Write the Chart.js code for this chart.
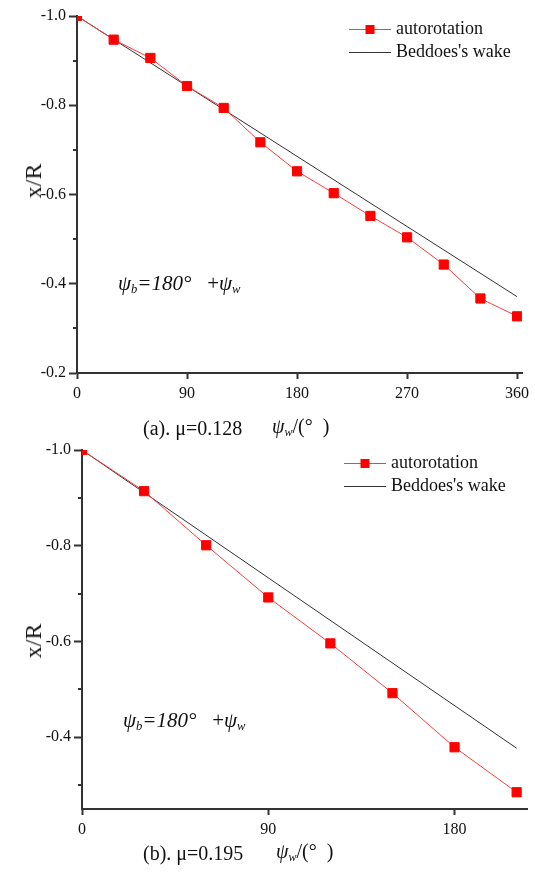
<!DOCTYPE html>
<html>
<head>
<meta charset="utf-8">
<script src="https://cdn.jsdelivr.net/npm/chart.js@4.4.1/dist/chart.umd.min.js"></script>
<style>
  body { margin: 0; background: #fff; width: 535px; height: 875px; position: relative; overflow: hidden;
         font-family: 'Liberation Serif', 'Times New Roman', serif; color: #111; }
  canvas { position: absolute; left: 0; }
  .t { position: absolute; white-space: nowrap; line-height: 1; }
  .t sub { font-size: 0.6em; vertical-align: -0.25em; }
  .ann { font-size: 21px; }
  .cap { font-size: 20px; }
  .ytitle { font-size: 24px; transform: translate(-50%, -50%) rotate(-90deg); }
</style>
</head>
<body>
<canvas id="chartA" width="535" height="437" style="top:0"></canvas>
<canvas id="chartB" width="535" height="438" style="top:437px"></canvas>

<div class="t ytitle" style="left:33px;top:181px">x/R</div>
<div class="t ytitle" style="left:33px;top:641px">x/R</div>

<div class="t ann" style="left:118px;top:273px"><i>ψ<sub>b</sub>=180°</i>&nbsp;&nbsp;&nbsp;+<i>ψ<sub>w</sub></i></div>
<div class="t ann" style="left:123px;top:710px"><i>ψ<sub>b</sub>=180°</i>&nbsp;&nbsp;&nbsp;+<i>ψ<sub>w</sub></i></div>

<div class="t cap" style="left:143px;top:418px">(a). μ=0.128</div>
<div class="t cap" style="left:272px;top:416px"><i>ψ<sub>w</sub></i>/(°&nbsp;&nbsp;)</div>
<div class="t cap" style="left:143px;top:843px">(b). μ=0.195</div>
<div class="t cap" style="left:276px;top:841px"><i>ψ<sub>w</sub></i>/(°&nbsp;&nbsp;)</div>

<script>
// (a) mu = 0.128
const psiA = [0, 30, 60, 90, 120, 150, 180, 210, 240, 270, 300, 330, 360];
const autoA = [-1.0, -0.947, -0.906, -0.843, -0.794, -0.717, -0.652, -0.603, -0.552, -0.504, -0.443, -0.367, -0.327];
const beddoesPsiA = [0, 360];
const beddoesA = [-1.0, -0.371];
const xTicksA = [0, 90, 180, 270, 360];
const yTicksA = [-1.0, -0.8, -0.6, -0.4, -0.2];
const yMinorA = [-0.9, -0.7, -0.5, -0.3];

// (b) mu = 0.195
const psiB = [0, 30, 60, 90, 120, 150, 180, 210];
const autoB = [-1.0, -0.914, -0.801, -0.692, -0.596, -0.492, -0.379, -0.285];
const beddoesPsiB = [0, 210];
const beddoesB = [-1.0, -0.377];
const xTicksB = [0, 90, 180];
const yTicksB = [-1.0, -0.8, -0.6, -0.4];
const yMinorB = [-0.9, -0.7, -0.5, -0.3];

const axisColor = '#333';
const tickFont = { family: "'Liberation Serif', serif", size: 16 };

function pts(xs, ys) {
    return xs.map((x, i) => ({ x: x, y: ys[i] }));
}

// short minor ticks on the y axis + the legend box in the upper right
const extras = {
    id: 'extras',
    afterDraw(chart, args, opts) {
        const ctx = chart.ctx;
        const y = chart.scales.y;
        const left = chart.chartArea.left;
        ctx.save();
        ctx.strokeStyle = axisColor;
        ctx.lineWidth = 2;
        opts.minor.forEach(v => {
            const py = Math.round(y.getPixelForValue(v));
            ctx.beginPath();
            ctx.moveTo(left - 4, py);
            ctx.lineTo(left, py);
            ctx.stroke();
        });

        const lg = opts.legend;
        ctx.font = "18px 'Liberation Serif', serif";
        ctx.textBaseline = 'middle';
        // autorotation
        ctx.strokeStyle = '#ff3b3b';
        ctx.lineWidth = 1;
        ctx.beginPath();
        ctx.moveTo(lg.x, lg.y1 + 0.5);
        ctx.lineTo(lg.x + 42, lg.y1 + 0.5);
        ctx.stroke();
        ctx.fillStyle = '#ff0000';
        ctx.fillRect(lg.x + 21 - 4.5, lg.y1 - 4, 9, 9);
        ctx.fillStyle = '#111';
        ctx.fillText('autorotation', lg.x + 47, lg.y1);
        // Beddoes
        ctx.strokeStyle = '#333';
        ctx.beginPath();
        ctx.moveTo(lg.x, lg.y2 + 0.5);
        ctx.lineTo(lg.x + 42, lg.y2 + 0.5);
        ctx.stroke();
        ctx.fillText("Beddoes's wake", lg.x + 47, lg.y2);
        ctx.restore();
    }
};

function makeChart(id, cfg) {
    const canvas = document.getElementById(id);
    const H = canvas.height;
    return new Chart(canvas.getContext('2d'), {
        type: 'line',
        data: {
            datasets: [{
                label: 'autorotation',
                data: pts(cfg.psi, cfg.auto),
                borderColor: '#ff3b3b',
                borderWidth: 1,
                pointStyle: 'rect',
                pointRadius: 6.5,
                pointBackgroundColor: '#ff0000',
                pointBorderColor: '#ff0000',
                pointBorderWidth: 1,
                tension: 0
            }, {
                label: "Beddoes's wake",
                data: pts(cfg.bPsi, cfg.bed),
                borderColor: '#333',
                borderWidth: 1,
                pointRadius: 0,
                tension: 0
            }]
        },
        options: {
            responsive: false,
            animation: false,
            layout: { padding: { top: cfg.top, right: 535 - cfg.right, left: 0, bottom: 0 } },
            plugins: {
                legend: { display: false },
                tooltip: { enabled: false },
                extras: { minor: cfg.minor, legend: cfg.legend }
            },
            scales: {
                x: {
                    type: 'linear',
                    min: 0,
                    max: cfg.xMax,
                    afterBuildTicks: s => { s.ticks = cfg.xTicks.map(v => ({ value: v })); },
                    afterFit: s => { s.height = H - cfg.bottom; },
                    grid: { drawOnChartArea: false, drawTicks: true, tickLength: 6, tickWidth: 2, tickColor: axisColor },
                    border: { display: true, color: axisColor, width: 2 },
                    ticks: { color: '#111', font: tickFont, padding: 5, maxRotation: 0, autoSkip: false }
                },
                y: {
                    type: 'linear',
                    reverse: true,
                    min: -1.0,
                    max: cfg.yMax,
                    afterBuildTicks: s => { s.ticks = cfg.yTicks.map(v => ({ value: v })); },
                    afterFit: s => { s.width = cfg.left; },
                    grid: { drawOnChartArea: false, drawTicks: true, tickLength: 8, tickWidth: 2, tickColor: axisColor },
                    border: { display: true, color: axisColor, width: 2 },
                    ticks: { color: '#111', font: tickFont, padding: 3, autoSkip: false,
                             callback: v => v.toFixed(1) }
                }
            }
        },
        plugins: [extras]
    });
}

makeChart('chartA', {
    psi: psiA, auto: autoA, bPsi: beddoesPsiA, bed: beddoesA,
    xTicks: xTicksA, yTicks: yTicksA, minor: yMinorA,
    xMax: 364, yMax: -0.2,
    left: 77, top: 16, right: 522, bottom: 373,
    legend: { x: 349, y1: 29, y2: 52 }
});

makeChart('chartB', {
    psi: psiB, auto: autoB, bPsi: beddoesPsiB, bed: beddoesB,
    xTicks: xTicksB, yTicks: yTicksB, minor: yMinorB,
    xMax: 215, yMax: -0.25,
    left: 82, top: 13, right: 527, bottom: 372,
    legend: { x: 344, y1: 26, y2: 49 }
});
</script>
</body>
</html>
